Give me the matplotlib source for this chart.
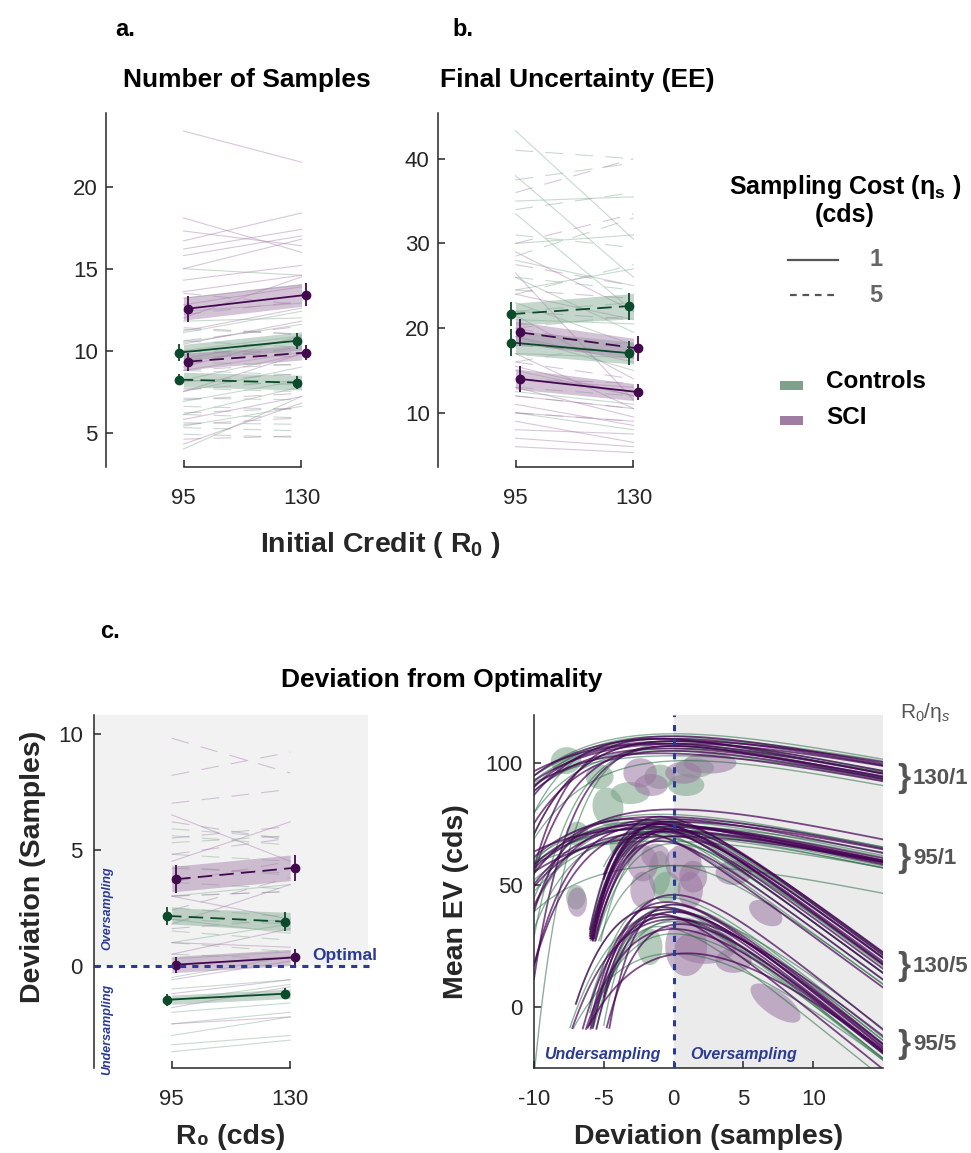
import numpy as np
import matplotlib
matplotlib.use('Agg')
import matplotlib.pyplot as plt
from matplotlib.lines import Line2D
from matplotlib.patches import Rectangle

plt.rcParams['font.family'] = ['Liberation Sans', 'DejaVu Sans']
plt.rcParams['mathtext.fontset'] = 'custom'
plt.rcParams['mathtext.rm'] = 'Liberation Sans'
plt.rcParams['mathtext.bf'] = 'Liberation Sans:bold'
plt.rcParams['mathtext.it'] = 'Liberation Sans:italic'
plt.rcParams['axes.unicode_minus'] = False

# ---------------- data ----------------
r0 = [95, 130]
# series order: controls eta=1, controls eta=5, SCI eta=1, SCI eta=5
series = [('ctrl', 1), ('ctrl', 5), ('sci', 1), ('sci', 5)]

# a. number of samples
ns_mean = [[9.88, 10.6], [8.23, 8.05], [12.56, 13.4], [9.33, 9.88]]
ns_err = [[0.5, 0.5], [0.35, 0.4], [0.8, 0.7], [0.55, 0.45]]
ns_band = [[0.5, 0.55], [0.45, 0.45], [0.7, 0.7], [0.5, 0.45]]
ns_subj_95 = [
    [15.0, 13.2, 12.4, 11.8, 11.1, 10.5, 10.0, 9.5, 8.8, 8.2, 7.5, 6.9, 6.1, 5.4, 4.0],
    [11.3, 10.6, 10.0, 9.3, 8.8, 8.2, 7.7, 7.1, 6.6, 6.1, 5.6, 5.3, 4.9],
    [23.4, 18.1, 17.3, 16.7, 16.2, 15.8, 15.0, 14.3, 13.6, 12.8, 12.0, 11.2, 10.4, 9.0, 7.5, 5.8, 4.3],
    [13.5, 12.2, 11.4, 10.6, 10.0, 9.4, 8.8, 8.1, 7.6, 7.0, 6.2, 5.5, 4.6],
]
ns_subj_130 = [
    [14.6, 14.0, 12.9, 12.0, 12.4, 11.6, 10.9, 10.8, 9.9, 9.8, 9.0, 8.2, 7.8, 6.6, 7.2],
    [11.0, 10.2, 9.9, 9.1, 8.5, 7.9, 7.5, 7.0, 6.4, 5.9, 5.5, 5.1, 4.7],
    [21.5, 16.0, 16.4, 18.4, 17.4, 17.0, 16.8, 15.2, 14.6, 13.9, 14.5, 12.6, 11.8, 10.9, 9.8, 7.2, 6.8],
    [12.8, 13.0, 11.0, 11.5, 9.6, 10.2, 9.2, 8.6, 8.2, 7.4, 6.5, 5.9, 4.8],
]

# b. final uncertainty
ee_mean = [[18.3, 17.05], [21.65, 22.6], [14.0, 12.45], [19.5, 17.6]]
ee_err = [[1.6, 1.4], [1.45, 1.6], [1.5, 0.9], [1.6, 1.5]]
ee_band = [[1.4, 1.3], [1.3, 1.5], [1.2, 1.0], [1.3, 1.2]]
ee_subj_95 = [
    [43.3, 38.0, 35.0, 33.5, 30.0, 28.0, 26.0, 24.5, 23.0, 21.0, 19.0, 17.0, 15.0, 12.5, 10.0],
    [41.0, 37.5, 34.0, 31.0, 28.5, 26.0, 24.0, 22.0, 20.0, 18.0, 16.0, 13.0],
    [29.0, 26.5, 24.0, 21.5, 19.0, 17.0, 15.5, 14.0, 13.0, 12.0, 11.0, 10.0, 9.0, 8.0, 7.0, 6.0],
    [36.0, 30.0, 27.5, 24.5, 22.0, 20.0, 18.0, 16.0, 14.0, 12.0, 10.0],
]
ee_subj_130 = [
    [30.5, 26.0, 35.5, 22.0, 31.0, 25.0, 19.5, 27.0, 18.0, 20.5, 15.0, 16.5, 12.0, 11.0, 8.0],
    [40.0, 39.5, 36.0, 29.5, 33.0, 24.5, 27.5, 23.0, 21.5, 17.0, 18.5, 12.0],
    [22.0, 11.5, 21.0, 14.0, 16.0, 10.5, 12.0, 13.0, 9.5, 10.5, 8.5, 9.0, 6.5, 7.5, 6.0, 5.3],
    [40.0, 33.5, 25.0, 23.5, 21.0, 17.5, 17.0, 14.0, 13.5, 10.5, 9.0],
]

# c. deviation from optimal number of samples
dev_mean = [[-1.46, -1.2], [2.15, 1.9], [0.05, 0.36], [3.73, 4.22]]
dev_err = [[0.25, 0.25], [0.4, 0.4], [0.35, 0.35], [0.6, 0.55]]
dev_band = [[0.2, 0.2], [0.35, 0.4], [0.35, 0.35], [0.55, 0.55]]
dev_subj_95 = [
    [3.0, 2.0, 1.0, 0.3, -0.5, -1.0, -1.5, -2.0, -2.5, -3.0, -3.4, -3.7],
    [5.9, 5.6, 5.3, 4.8, 4.3, 3.6, 3.0, 2.5, 2.0, 1.5, 1.0, 0.5],
    [6.5, 4.5, 3.0, 1.8, 1.0, 0.5, 0.0, -0.6, -1.2, -1.8, -2.5],
    [9.8, 8.2, 7.0, 6.2, 5.5, 4.8, 4.2, 3.6, 3.0, 2.4, 1.6],
]
dev_subj_130 = [
    [3.5, 1.4, 1.8, 0.6, 0.4, -0.6, -0.8, -1.6, -2.0, -2.2, -3.0, -3.2],
    [5.5, 5.2, 5.6, 4.5, 3.9, 3.3, 3.2, 2.1, 1.8, 1.1, 0.6, 0.3],
    [4.5, 6.2, 2.0, 3.5, 0.8, 1.6, 0.4, 0.2, -0.6, -0.9, -2.2],
    [8.3, 9.2, 7.6, 5.4, 6.0, 5.5, 4.0, 4.5, 3.2, 3.8, 2.0],
]

# c. mean EV curves per subject: condition R0/eta
conditions = ['130/1', '95/1', '130/5', '95/5']
cond_slope = [1.1, 1.2, 4.2, 4.6]
cond_floor = [-25, -25, 27, -9]   # EV after a single sample
ev_peak_ctrl = [
    [112, 111, 110, 109, 108, 107, 106, 105, 103, 101, 110, 108],
    [79, 77, 76, 75, 74, 73, 72, 71, 70, 68, 76, 58],
    [77, 75, 74, 73, 72, 71, 70, 69, 67, 58, 74, 72],
    [45, 42, 41, 40, 39, 38, 37, 36, 35, 33, 30, 22],
]
ev_shift_ctrl = [
    [0, -0.5, 0.5, 0, -1, 0, 0.5, -0.5, 0, 1, -1.5, 0],
    [-1, 0, -0.5, -1.5, 0, -2, -1, 0, -0.5, -1, -2.5, 0],
    [-1, -0.5, -1.5, -1, 0, -2, -1, -0.5, 0, 0, -1, -1.5],
    [-0.5, 0, -1, -0.5, 0, -1, -0.5, 0.5, 0, -1, 0, 0],
]
ev_tau_ctrl = [
    [6, 5, 7, 4, 5.5, 3, 6.5, 4.5, 8, 5, 3.5, 2.5],
    [5, 6, 4, 5.5, 7, 4.5, 3.5, 6, 5, 8, 3, 6],
    [2.5, 2.8, 2.2, 2.6, 3, 2.3, 2.7, 2.4, 3.2, 3.5, 2.5, 2.0],
    [3, 2.9, 3.8, 2.2, 4.8, 3, 2.9, 3.8, 3.5, 2.5, 4, 6],
]
ev_start_ctrl = [
    [-10] * 12,
    [-10] * 12,
    [-6, -7, -5, -6, -7, -5, -6, -6, -7, -10, -6, -5],
    [-6, -6, -7, -5, -8, -6, -6, -7, -7, -5, -8, -8],
]
ev_peak_sci = [
    [111, 110, 109, 108, 108, 107, 106, 105, 104, 110, 109, 107],
    [81, 78, 77, 76, 75, 74, 74, 73, 72, 70, 77, 75],
    [78, 76, 75, 74, 73, 72, 72, 71, 70, 68, 75, 73],
    [46, 43, 42, 41, 40, 39, 38, 37, 36, 34, 32, 22],
]
ev_shift_sci = [
    [0, -0.5, 0, -1, 0.5, 0, -0.5, 0, -1, -1, 0.5, 0],
    [0, -1, -0.5, 0, -1.5, -1, 0, -2, -0.5, 0, -3, -1],
    [-1, -0.5, -1, -1.5, 0, -1, -0.5, -2, 0, -1, -1, -0.5],
    [0, -0.5, 0, -1, -0.5, 0, -1, -0.5, 0, 0.5, 0, 1],
]
ev_tau_sci = [
    [5, 6, 4, 5, 7, 3.5, 5.5, 4.5, 6, 3, 8, 2.8],
    [5, 5.5, 4, 6, 5, 4.5, 3.5, 6.5, 5, 7, 2.5, 3],
    [2.5, 2.7, 2.4, 2.2, 3, 2.6, 2.8, 2.0, 3.2, 2.5, 2.3, 2.9],
    [3, 2.9, 2.2, 3.8, 2.9, 3, 2.2, 3.5, 4.8, 3, 4, 6],
]
ev_start_sci = [
    [-10] * 12,
    [-10] * 12,
    [-6, -7, -6, -5, -7, -6, -7, -5, -7, -6, -6, -7],
    [-6, -6, -5, -7, -6, -6, -5, -7, -8, -6, -8, -8],
]

# subject uncertainty regions: centre (dev, EV), half-width, half-height, tilt
blob_ctrl = [
    (-7.7, 101, 1.1, 5.5, 10), (-5.3, 94.4, 1.0, 5.0, 0), (-4.7, 82, 1.1, 8.0, 10),
    (-3.1, 87.7, 1.4, 4.5, 0), (-1.0, 94.4, 1.1, 5.0, 0), (0.9, 91, 1.3, 4.5, 0),
    (-6.9, 71, 0.8, 5.0, 0), (-1.0, 55, 0.8, 9.0, 0), (-0.5, 49, 1.0, 6.5, 0),
    (-1.7, 24.7, 0.9, 7.5, 0), (-7.0, 45, 0.7, 5.0, 0), (1.5, 98, 1.4, 4.0, 0),
    (-3.6, 66, 1.0, 4.5, 0),
]
blob_sci = [
    (-2.4, 96, 1.2, 6.0, 0), (-1.6, 91, 1.2, 4.5, 0), (0.7, 96, 1.3, 4.5, 0),
    (2.6, 100, 1.9, 4.3, 0), (-2.2, 59, 1.1, 7.5, 0), (0.7, 59, 1.3, 7.5, 0),
    (1.4, 53.4, 1.0, 6.5, 0), (4.3, 55, 1.3, 5.0, 0), (-2.2, 48, 0.9, 7.5, 0),
    (1.2, 48, 0.9, 7.5, 0), (0.9, 24.7, 1.5, 12, 0), (2.3, 24.7, 2.2, 7.0, 0),
    (4.3, 19, 1.3, 5.0, 0), (7.3, 1.6, 2.1, 5.0, -35), (6.6, 38.5, 1.3, 4.5, -30),
    (-6.9, 43, 0.7, 6.0, 0), (-1.3, 62, 1.0, 5.0, 0),
]

# ---------------- styles ----------------
dark = {'ctrl': '#0B4A2A', 'sci': '#43094F'}
faint = {'ctrl': '#86AE93', 'sci': '#A882AE'}
band_col = {'ctrl': '#7FA58E', 'sci': '#A07BA6'}
offset = {'ctrl': -1.4, 'sci': 1.3}
blue = '#2B3A94'
ink = '#262626'
tick_fs = 16

W, H = 971, 1153
fig = plt.figure(figsize=(W / 100, H / 100), dpi=100)


def box(x0, y0, x1, y1):
    return [x0 / W, 1 - y1 / H, (x1 - x0) / W, (y1 - y0) / H]


def ftext(x, y, s, **kw):
    fig.text(x / W, 1 - y / H, s, **kw)


def paired_panel(ax, subj_95, subj_130, means, errs, bands):
    for k, (grp, eta) in enumerate(series):
        ls = (0, (16, 11)) if eta == 5 else '-'
        for a, b in zip(subj_95[k], subj_130[k]):
            ax.plot(r0, [a, b], color=faint[grp], lw=0.8, alpha=0.45, ls=ls, zorder=1)
    for k, (grp, eta) in enumerate(series):
        m = np.array(means[k])
        bw = np.array(bands[k])
        ax.fill_between(r0, m - bw, m + bw, color=band_col[grp], alpha=0.45, lw=0, zorder=2)
        xs = [r0[0] + offset[grp], r0[1] + offset[grp]]
        ls = (0, (8, 4)) if eta == 5 else '-'
        ax.plot(xs, m, color=dark[grp], lw=1.3, ls=ls, zorder=3)
        ax.errorbar(xs, m, yerr=errs[k], fmt='o', color=dark[grp], ms=6,
                    elinewidth=1.3, capsize=0, zorder=4)


def style_paired(ax, ylim, yticks):
    ax.set_xlim(72, 153)
    ax.set_ylim(*ylim)
    ax.set_xticks(r0)
    ax.set_yticks(yticks)
    ax.patch.set_alpha(0)
    for s in ['top', 'right']:
        ax.spines[s].set_visible(False)
    for s in ['left', 'bottom']:
        ax.spines[s].set_color(ink)
        ax.spines[s].set_linewidth(1.1)
    ax.spines['bottom'].set_bounds(95, 130)
    ax.tick_params(direction='in', length=5, width=1.1, labelsize=tick_fs,
                   colors=ink)
    ax.tick_params(axis='x', pad=15)
    ax.tick_params(axis='y', pad=6)


# a. number of samples
ax_a = fig.add_axes(box(106, 113, 379, 467))
paired_panel(ax_a, ns_subj_95, ns_subj_130, ns_mean, ns_err, ns_band)
style_paired(ax_a, (2.9, 24.5), [5, 10, 15, 20])

# b. final uncertainty
ax_b = fig.add_axes(box(438, 113, 711, 467))
paired_panel(ax_b, ee_subj_95, ee_subj_130, ee_mean, ee_err, ee_band)
style_paired(ax_b, (3.6, 45.4), [10, 20, 30, 40])

ftext(115, 30, 'a.', fontsize=17, fontweight='bold', va='center')
ftext(452, 30, 'b.', fontsize=17, fontweight='bold', va='center')
ftext(247, 80, 'Number of Samples', fontsize=19, fontweight='bold', ha='center', va='center')
ftext(577, 80, 'Final Uncertainty (EE)', fontsize=19, fontweight='bold', ha='center', va='center')
ftext(380, 545, r'Initial Credit ( R$_\mathbf{0}$ )', fontsize=20.5, fontweight='bold',
      ha='center', va='center', color=ink)

# legend
ftext(845, 187, r'Sampling Cost (η$_\mathbf{s}$ )', fontsize=18, fontweight='bold',
      ha='center', va='center')
ftext(845, 215, '(cds)', fontsize=18, fontweight='bold', ha='center', va='center')
fig.add_artist(Line2D([788 / W, 838 / W], [1 - 260 / H] * 2, color='#555555', lw=1.6))
fig.add_artist(Line2D([790 / W, 838 / W], [1 - 295 / H] * 2, color='#555555', lw=1.6,
                      ls=(0, (3, 2.6))))
ftext(876, 260, '1', fontsize=17, fontweight='bold', color='#666666', ha='center', va='center')
ftext(876, 295, '5', fontsize=17, fontweight='bold', color='#666666', ha='center', va='center')
fig.add_artist(Rectangle((780 / W, 1 - 390 / H), 23 / W, 9 / H, color='#7FA08A', lw=0))
fig.add_artist(Rectangle((780 / W, 1 - 425 / H), 23 / W, 9 / H, color='#A07CA2', lw=0))
ftext(826, 382, 'Controls', fontsize=17.5, fontweight='bold', va='center')
ftext(826, 418, 'SCI', fontsize=17.5, fontweight='bold', va='center')

# c. deviation from optimality (left)
ax_c = fig.add_axes(box(94, 715, 368, 1068))
ax_c.axhspan(0, 10.8, color='#F2F2F2', lw=0, zorder=0)
paired_panel(ax_c, dev_subj_95, dev_subj_130, dev_mean, dev_err, dev_band)
style_paired(ax_c, (-4.4, 10.8), [0, 5, 10])
ax_c.tick_params(axis='y', pad=8)
ax_c.axhline(0, xmax=1.015, color=blue, lw=2.2, ls=(0, (2, 2)), zorder=5, clip_on=False)
ax_c.text(146, 0.45, 'Optimal', fontsize=12.5, fontweight='bold', color=blue, ha='center',
          va='center', zorder=6)
ax_c.text(76, 2.5, 'Oversampling', fontsize=9, fontweight='bold', style='italic', color=blue,
          rotation=90, ha='center', va='center')
ax_c.text(76, -2.75, 'Undersampling', fontsize=9, fontweight='bold', style='italic', color=blue,
          rotation=90, ha='center', va='center', clip_on=False)
ax_c.set_ylabel('Deviation (Samples)', fontsize=20.5, fontweight='bold', color=ink)
ax_c.yaxis.set_label_coords(-0.175, 0.57)
ax_c.set_xlabel('R₀ (cds)', fontsize=20.5, fontweight='bold', color=ink, labelpad=10)

ftext(100, 632, 'c.', fontsize=17, fontweight='bold', va='center')
ftext(442, 680, 'Deviation from Optimality', fontsize=19, fontweight='bold', ha='center', va='center')

# c. mean EV against deviation (right)
ax_d = fig.add_axes(box(534, 715, 883, 1068))
ax_d.set_xlim(-10, 15)
ax_d.set_ylim(-25, 119.7)
ax_d.axvspan(0, 15, color='#EBEBEB', lw=0, zorder=0)

kx, ky = 14.0, 2.44  # screen pixels per data unit


def blob(cx, cy, hw, hh, ang, color):
    t = np.linspace(0, 2 * np.pi, 120)
    u = hw * kx * np.cos(t)
    v = hh * ky * np.sin(t)
    th = np.deg2rad(ang)
    uu = u * np.cos(th) - v * np.sin(th)
    vv = u * np.sin(th) + v * np.cos(th)
    ax_d.fill(cx + uu / kx, cy + vv / ky, color=color, alpha=0.55, lw=0, zorder=1)


for b in blob_ctrl:
    blob(*b, color='#78A388')
for b in blob_sci:
    blob(*b, color='#9A76A1')


def ev_curve(peak, d0, tau, slope, start, floor):
    d = np.linspace(start, 15, 400)
    y = peak - slope * tau * (np.exp(-(d - d0) / tau) - 1) - slope * (d - d0)
    # undersampling side starts where a single sample is taken
    keep = (y >= floor) | (d > d0)
    return d[keep], y[keep]


for c in range(len(conditions)):
    for peaks, shifts, taus, starts, col, lw, al in [
            (ev_peak_ctrl, ev_shift_ctrl, ev_tau_ctrl, ev_start_ctrl, '#2F6F4A', 1.0, 0.55),
            (ev_peak_sci, ev_shift_sci, ev_tau_sci, ev_start_sci, '#440154', 1.3, 0.7)]:
        for p, s0, tau, st in zip(peaks[c], shifts[c], taus[c], starts[c]):
            d, y = ev_curve(p, s0, tau, cond_slope[c], st, cond_floor[c])
            ax_d.plot(d, y, color=col, lw=lw, alpha=al, zorder=2)

ax_d.axvline(0, color=blue, lw=2.2, ls=(0, (2, 2.6)), zorder=5)
ax_d.text(-5.1, -19.3, 'Undersampling', fontsize=11.5, fontweight='bold', style='italic',
          color=blue, ha='center', va='center', zorder=6)
ax_d.text(5.0, -19.3, 'Oversampling', fontsize=11.5, fontweight='bold', style='italic',
          color=blue, ha='center', va='center', zorder=6)
ax_d.set_xticks([-10, -5, 0, 5, 10])
ax_d.set_yticks([0, 50, 100])
for s in ['top', 'right']:
    ax_d.spines[s].set_visible(False)
for s in ['left', 'bottom']:
    ax_d.spines[s].set_color(ink)
    ax_d.spines[s].set_linewidth(1.1)
ax_d.tick_params(direction='in', length=5, width=1.1, labelsize=tick_fs, colors=ink)
ax_d.tick_params(axis='x', pad=15)
ax_d.tick_params(axis='y', pad=8)
ax_d.set_ylabel('Mean EV (cds)', fontsize=20.5, fontweight='bold', color=ink)
ax_d.yaxis.set_label_coords(-0.185, 0.47)
ax_d.set_xlabel('Deviation (samples)', fontsize=20.5, fontweight='bold', color=ink, labelpad=10)

ftext(925, 712, r'R$_0$/η$_s$', fontsize=15, color='#555555', ha='center', va='center')
for lab, yy in zip(['130/1', '95/1', '130/5', '95/5'], [778, 858, 967, 1045]):
    ftext(897, yy, '}', fontsize=24, fontweight='bold', color='#555555', va='center')
    ftext(913, yy, lab, fontsize=16, fontweight='bold', color='#555555', va='center')

fig.savefig('out.png', dpi=100)
